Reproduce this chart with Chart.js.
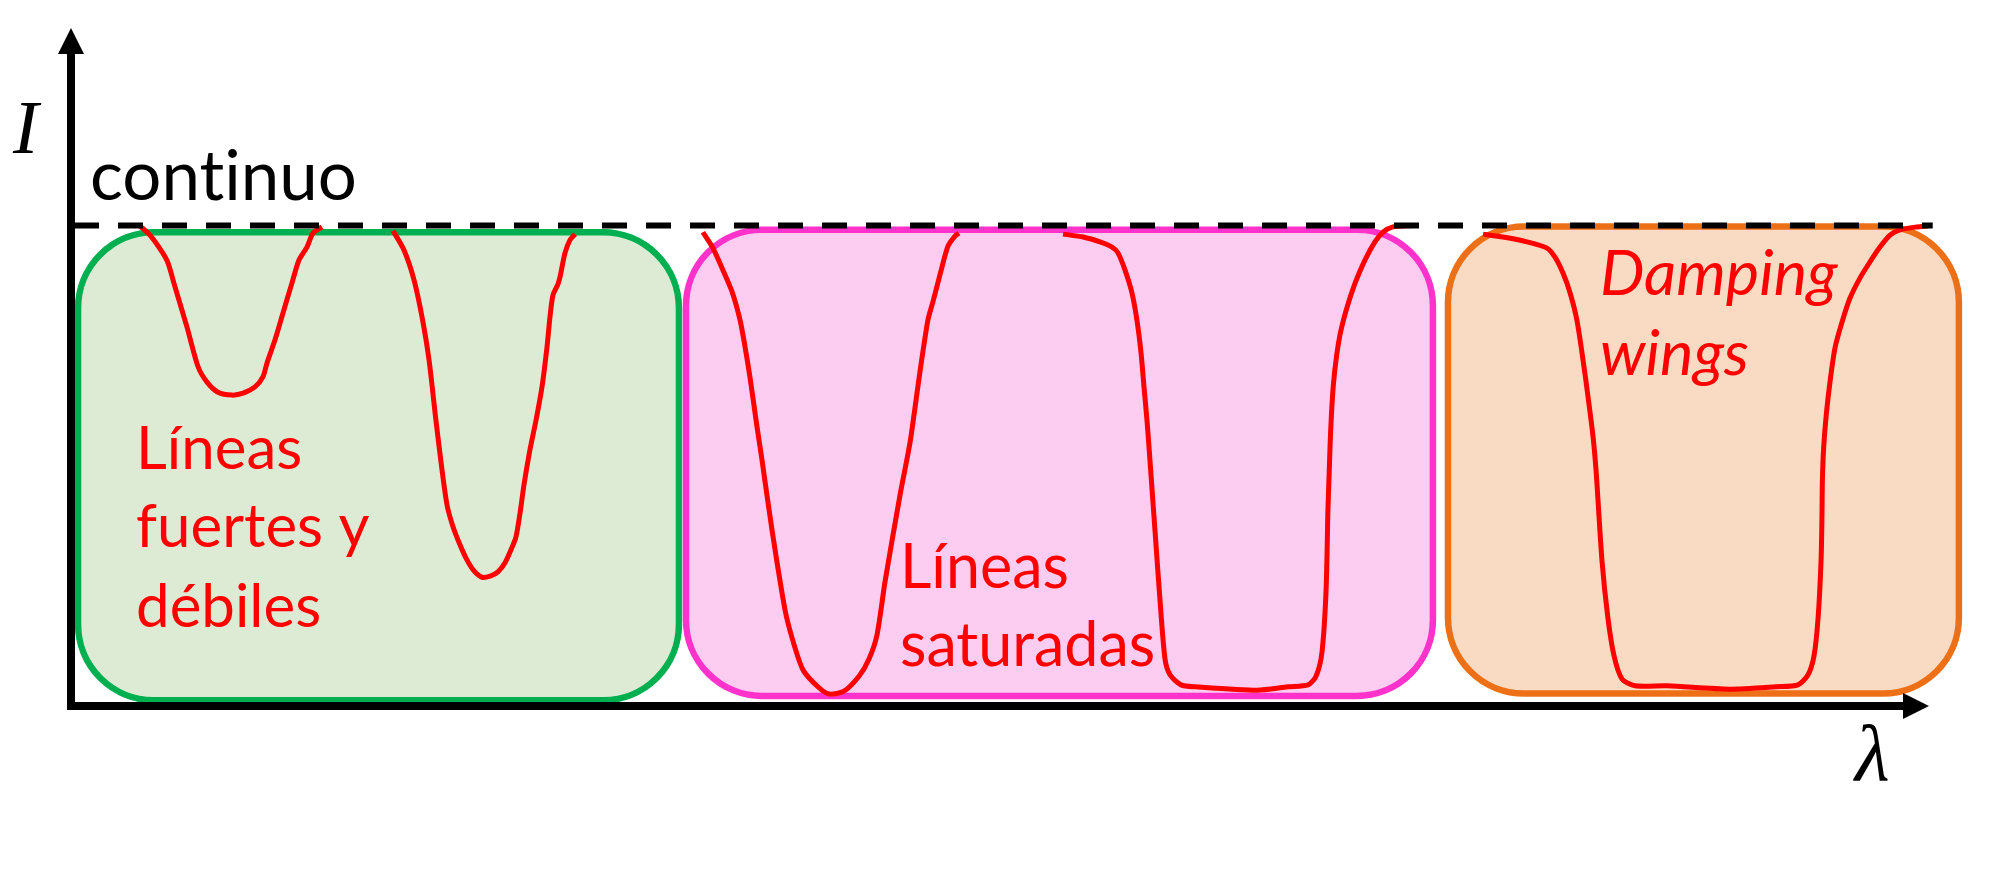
<!DOCTYPE html>
<html>
<head>
<meta charset="utf-8">
<script src="https://cdn.jsdelivr.net/npm/chart.js@4.4.0/dist/chart.umd.min.js"></script>
<style>
  html, body { margin: 0; padding: 0; background: #fff; }
</style>
</head>
<body>
<canvas id="myChart" width="2015" height="891"></canvas>
<script>
// wavelength in arbitrary units (0..1000), intensity relative to the continuum (=1)
const lambdaMax = 1000;
const intensityMax = 1.411;
const continuum = [[0, 1], [1002, 1]];

const weakLine = [[37.1,0.999],[42.5,0.980],[49.0,0.945],[52.2,0.922],[56.0,0.872],[62.4,0.789],[68.4,0.706],
  [73.2,0.674],[79.1,0.653],[86.7,0.647],[92.6,0.651],[99.0,0.664],[103.3,0.685],[105.5,0.714],[109.8,0.762],
  [114.1,0.818],[118.9,0.880],[122.7,0.928],[127.0,0.955],[130.2,0.984],[135.1,0.997]];

const strongLine = [[173.3,0.989],[179.2,0.949],[184.6,0.887],[188.9,0.810],[192.7,0.720],[196.4,0.595],[199.7,0.491],
  [202.4,0.418],[205.6,0.373],[209.4,0.335],[213.1,0.304],[216.9,0.281],[221.2,0.268],[226.0,0.271],[229.8,0.279],
  [233.6,0.298],[236.8,0.325],[239.5,0.352],[241.7,0.402],[243.8,0.460],[247.0,0.533],[250.3,0.595],[253.5,0.664],
  [256.2,0.747],[257.8,0.810],[259.4,0.855],[262.1,0.878],[263.2,0.893],[265.9,0.943],[268.6,0.970],[271.3,0.982]];

const saturatedLine = [[340.1,0.986],[345.5,0.953],[350.9,0.907],[355.8,0.862],[360.1,0.803],[362.8,0.747],[365.4,0.685],
  [368.7,0.595],[371.9,0.512],[377.3,0.366],[384.3,0.200],[388.6,0.135],[394.0,0.075],[402.0,0.040],[408.0,0.025],
  [416.0,0.031],[424.1,0.062],[429.5,0.098],[433.8,0.148],[438.1,0.258],[446.2,0.439],[451.6,0.549],[456.9,0.695],
  [461.2,0.803],[463.9,0.841],[468.2,0.905],[472.0,0.957],[475.8,0.978],[477.9,0.984]];

const saturatedWideLine = [[533.9,0.982],[544.7,0.976],[553.8,0.966],[560.3,0.955],[563.5,0.943],[567.3,0.907],[571.0,0.860],
  [573.7,0.803],[575.9,0.735],[577.5,0.664],[579.1,0.595],[580.7,0.512],[583.4,0.366],[586.1,0.221],[588.8,0.098],
  [591.5,0.065],[597.4,0.044],[605.5,0.040],[638.3,0.033],[655.0,0.040],[665.8,0.044],[670.1,0.062],[673.3,0.112],
  [675.5,0.241],[676.5,0.408],[677.1,0.477],[677.7,0.547],[678.4,0.608],[679.5,0.672],[681.2,0.730],[683.4,0.780],
  [686.8,0.830],[691.1,0.880],[696.4,0.928],[701.8,0.966],[706.1,0.986],[711.5,0.997],[721.7,1.000]];

const dampingWingLine = [[760.0,0.982],[770.7,0.976],[783.6,0.966],[794.4,0.953],[798.7,0.934],[803.0,0.901],[806.8,0.860],
  [810.5,0.803],[813.8,0.720],[816.5,0.643],[819.2,0.560],[820.8,0.491],[824.0,0.302],[827.2,0.183],[830.5,0.104],
  [834.8,0.056],[841.8,0.042],[859.0,0.042],[892.4,0.035],[917.7,0.040],[929.5,0.044],[934.9,0.065],[938.1,0.104],
  [940.3,0.183],[941.9,0.302],[942.4,0.397],[942.6,0.466],[943.3,0.537],[944.7,0.606],[946.7,0.674],[949.4,0.745],
  [953.2,0.799],[957.5,0.849],[962.9,0.891],[968.2,0.924],[973.6,0.955],[979.0,0.980],[984.4,0.991],[993.5,0.997],
  [999.5,0.999]];

const regionStart = [3.8, 331.0, 741.1];
const regionEnd = [327.2, 733.0, 1016.1];
const regionTop = [0.986, 0.991, 0.998];
const regionBottom = [0.012, 0.021, 0.026];

const labelLines = [['continuo'], ['Líneas', 'fuertes y', 'débiles'], ['Líneas', 'saturadas'], ['Damping', 'wings']];

const toPoints = (arr) => arr.map(p => ({x: p[0], y: p[1]}));

const regionBoxes = {
  id: 'regionBoxes',
  beforeDatasetsDraw(chart, args, opts) {
    const {ctx, scales: {x, y}} = chart;
    ctx.save();
    regionStart.forEach((s, i) => {
      const l = x.getPixelForValue(s), r = x.getPixelForValue(regionEnd[i]);
      const t = y.getPixelForValue(regionTop[i]), b = y.getPixelForValue(regionBottom[i]);
      ctx.beginPath();
      ctx.roundRect(l, t, r - l, b - t, opts.radius);
      ctx.fillStyle = opts.fill[i];
      ctx.fill();
      ctx.lineWidth = opts.lineWidth;
      ctx.strokeStyle = opts.stroke[i];
      ctx.stroke();
    });
    ctx.restore();
  }
};

const arrowAxes = {
  id: 'arrowAxes',
  afterDatasetsDraw(chart, args, opts) {
    const {ctx, scales: {x, y}} = chart;
    const x0 = x.getPixelForValue(0), y0 = y.getPixelForValue(0);
    const xTip = x.getPixelForValue(lambdaMax), yTip = y.getPixelForValue(intensityMax);
    const a = opts.head;
    ctx.save();
    ctx.strokeStyle = '#000';
    ctx.fillStyle = '#000';
    ctx.lineWidth = opts.width;
    ctx.beginPath();
    ctx.moveTo(x0, yTip + a.len - 1);
    ctx.lineTo(x0, y0 + opts.width / 2);
    ctx.moveTo(x0 - opts.width / 2, y0);
    ctx.lineTo(xTip - a.len + 1, y0);
    ctx.stroke();
    ctx.beginPath();
    ctx.moveTo(x0, yTip);
    ctx.lineTo(x0 - a.half, yTip + a.len);
    ctx.lineTo(x0 + a.half, yTip + a.len);
    ctx.closePath();
    ctx.fill();
    ctx.beginPath();
    ctx.moveTo(xTip, y0);
    ctx.lineTo(xTip - a.len, y0 - a.half);
    ctx.lineTo(xTip - a.len, y0 + a.half);
    ctx.closePath();
    ctx.fill();
    ctx.restore();
  }
};

const textLabels = {
  id: 'textLabels',
  afterDraw(chart, args, opts) {
    const {ctx, scales: {x, y}} = chart;
    ctx.save();
    ctx.textBaseline = 'alphabetic';
    ctx.textAlign = 'left';
    ctx.textRendering = 'optimizeSpeed'; // no "ti" ligature in Lato
    opts.items.forEach(it => {
      ctx.font = it.font;
      ctx.fillStyle = it.color;
      const px = x.getPixelForValue(it.x);
      it.lines.forEach((line, k) => {
        ctx.fillText(line, px, y.getPixelForValue(it.y[k]));
      });
    });
    ctx.restore();
  }
};

const ctx = document.getElementById('myChart').getContext('2d');
const curveStyle = {borderColor: '#ff0000', borderWidth: 5, pointRadius: 0, tension: 0.25, fill: false, clip: false};

const myChart = new Chart(ctx, {
  type: 'scatter',
  data: {
    datasets: [
      {data: toPoints(continuum), showLine: true, borderColor: '#000', borderWidth: 6, borderDash: [25, 19],
       borderDashOffset: -3, pointRadius: 0, clip: false},
      {data: toPoints(weakLine), showLine: true, ...curveStyle},
      {data: toPoints(strongLine), showLine: true, ...curveStyle},
      {data: toPoints(saturatedLine), showLine: true, ...curveStyle},
      {data: toPoints(saturatedWideLine), showLine: true, ...curveStyle},
      {data: toPoints(dampingWingLine), showLine: true, ...curveStyle}
    ]
  },
  options: {
    responsive: false,
    animation: false,
    layout: {padding: {left: 71, right: 86, top: 28, bottom: 185}},
    scales: {
      x: {type: 'linear', min: 0, max: lambdaMax, display: false},
      y: {type: 'linear', min: 0, max: intensityMax, display: false}
    },
    plugins: {
      legend: {display: false},
      tooltip: {enabled: false},
      regionBoxes: {
        radius: 76,
        lineWidth: 6.5,
        fill: ['#deebd4', '#fccdf0', '#f9dbc3'],
        stroke: ['#00b050', '#ff33cc', '#ee7016']
      },
      arrowAxes: {width: 8, head: {len: 26, half: 13}},
      textLabels: {
        items: [
          {lines: labelLines[0], x: 10.2, y: [1.053], font: '69px Lato', color: '#000'},
          {lines: labelLines[1], x: 35.0, y: [0.493, 0.331, 0.164], font: '60px Lato', color: '#ff0000'},
          {lines: labelLines[2], x: 446.2, y: [0.246, 0.083], font: '61px Lato', color: '#ff0000'},
          {lines: labelLines[3], x: 822.9, y: [0.855, 0.689], font: 'italic 63px Lato', color: '#ff0000'},
          {lines: ['I'], x: -31.2, y: [1.151], font: 'italic 76px "Liberation Serif"', color: '#000'},
          {lines: ['λ'], x: 960.2, y: [-0.154], font: 'italic 80px "Liberation Serif"', color: '#000'}
        ]
      }
    }
  },
  plugins: [regionBoxes, arrowAxes, textLabels]
});
</script>
</body>
</html>
